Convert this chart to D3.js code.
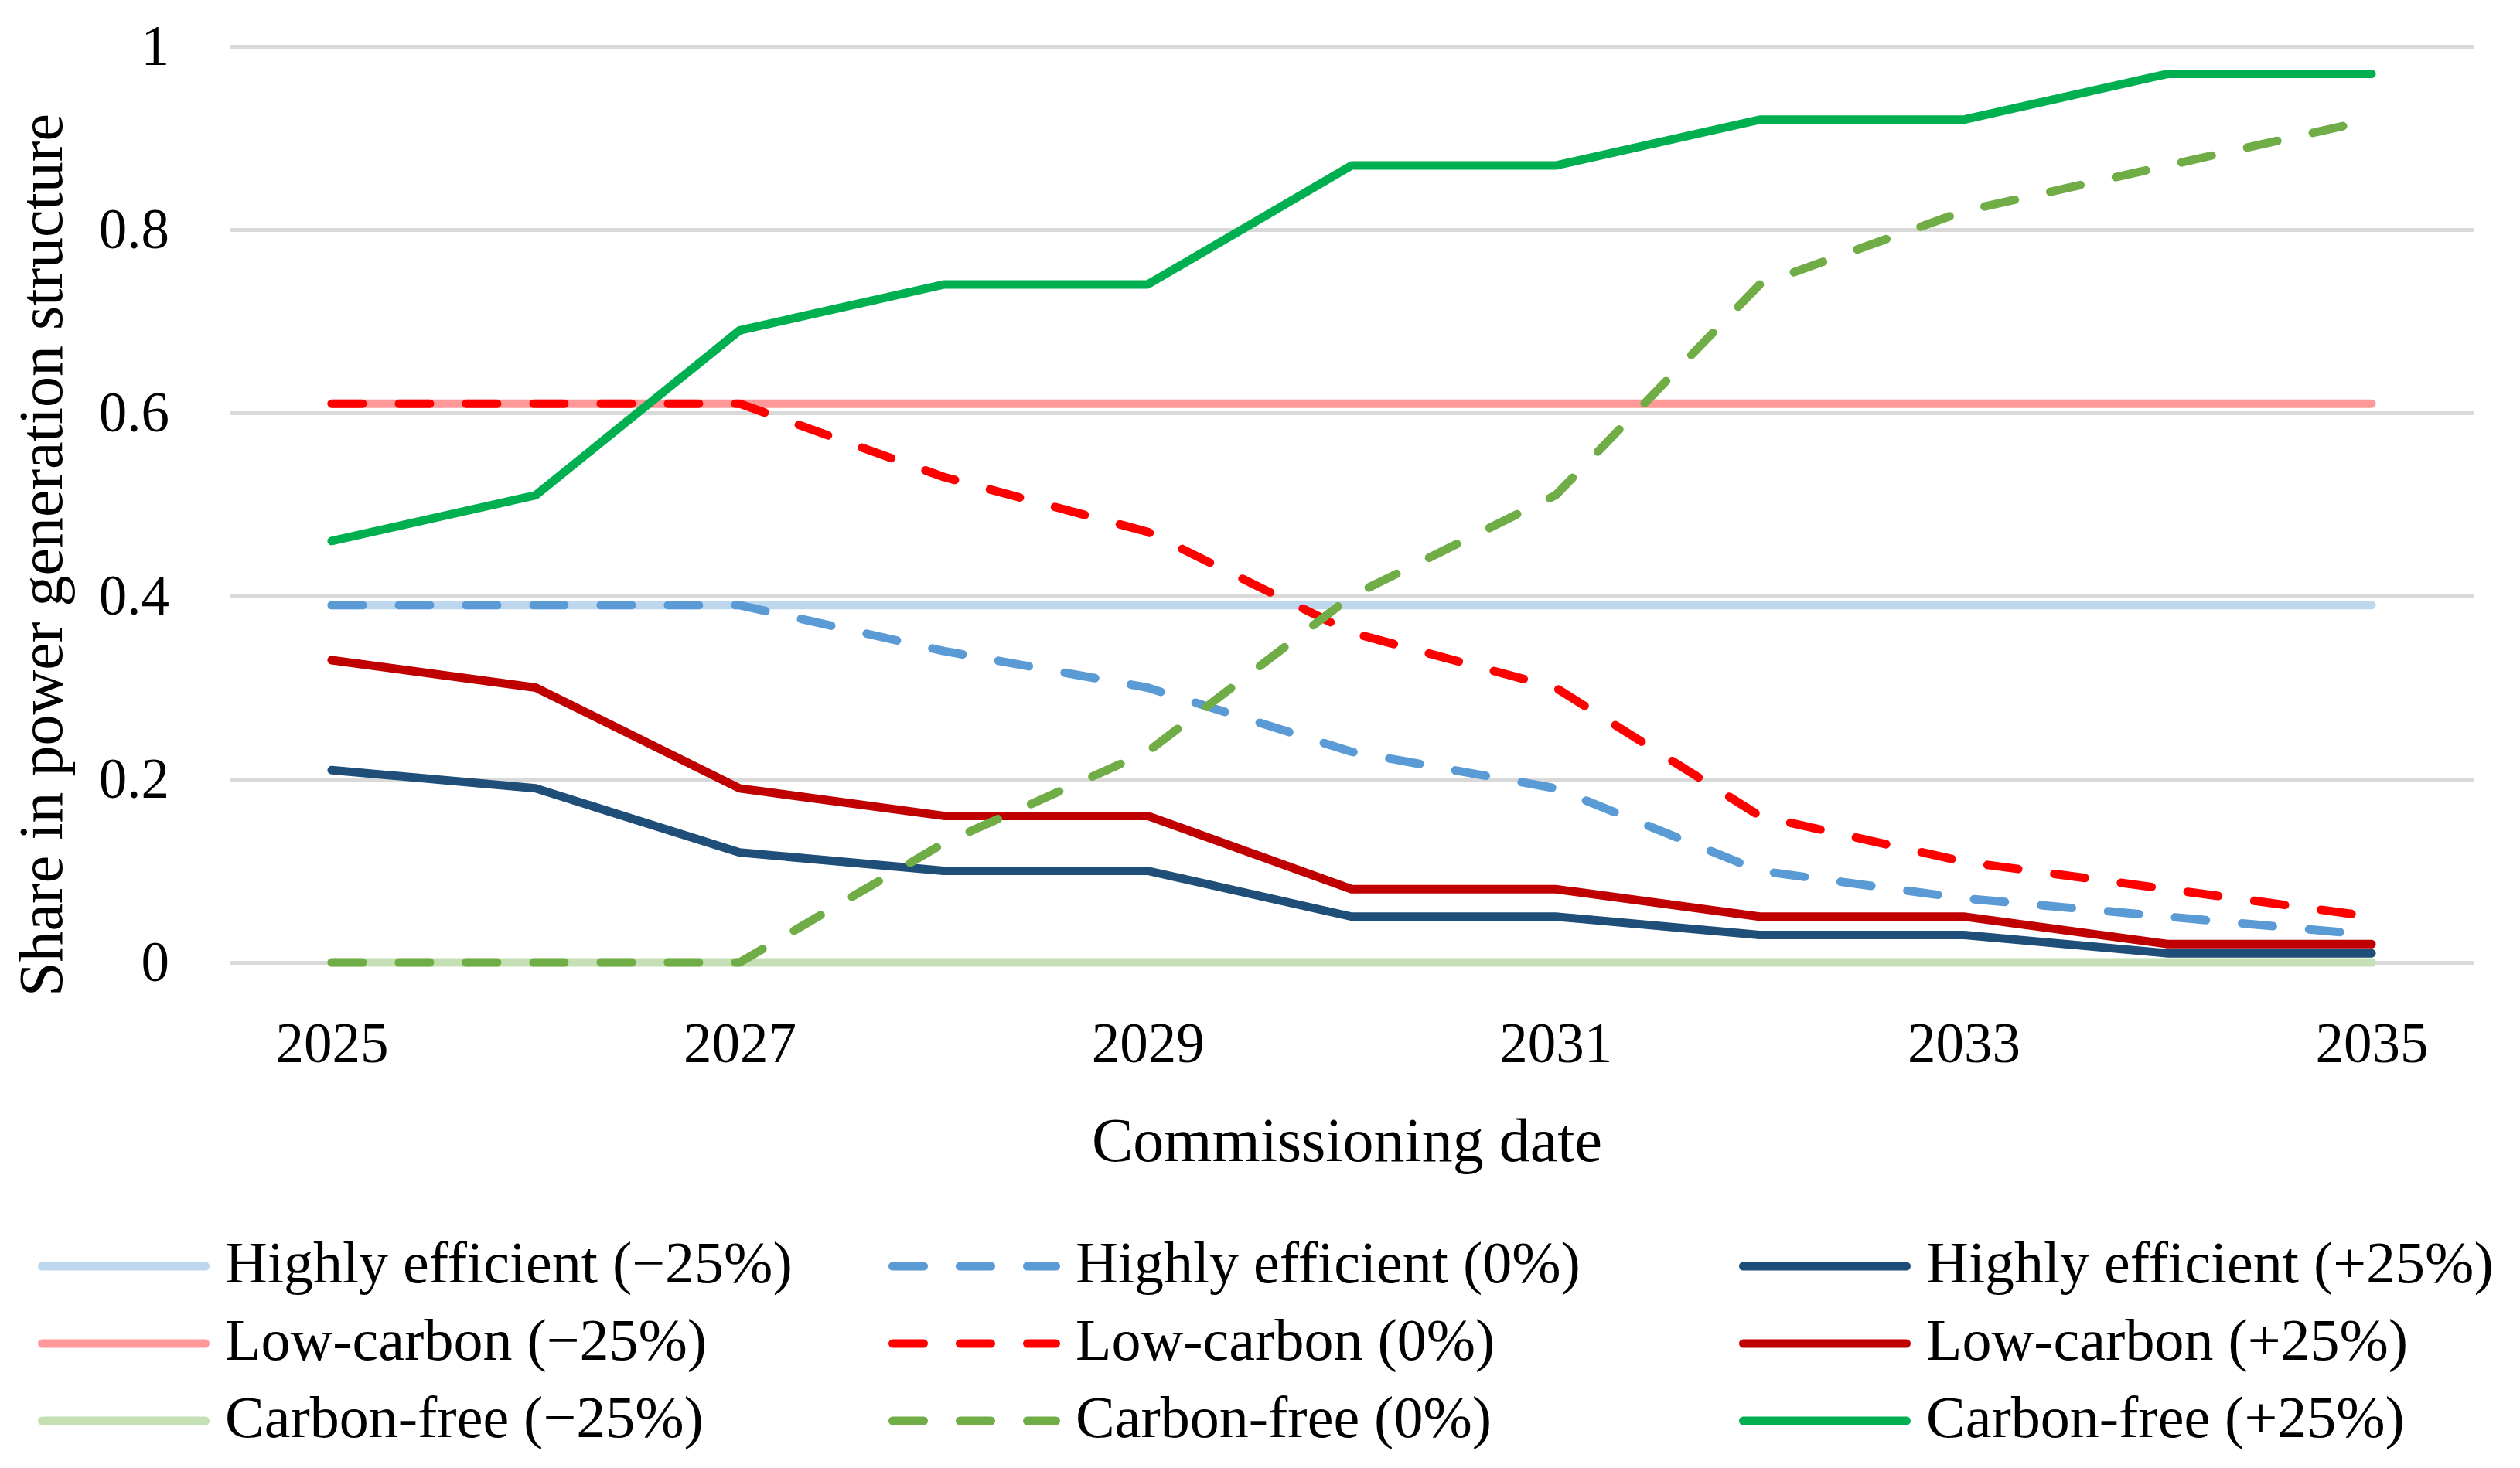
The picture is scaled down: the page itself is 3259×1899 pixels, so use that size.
<!DOCTYPE html>
<html>
<head>
<meta charset="utf-8">
<script src="https://cdn.jsdelivr.net/npm/d3@7"></script>
<style>
  html, body { margin: 0; padding: 0; background: #ffffff; }
  svg { display: block; }
  text { font-family: "Liberation Serif", "DejaVu Serif", serif; fill: #000; }
</style>
</head>
<body>
<script>
// ---------- data ----------
const years = ["2025","2026","2027","2028","2029","2030","2031","2032","2033","2034","2035"];
const xTickLabels = ["2025","2027","2029","2031","2033","2035"];
const yTicks = [0, 0.2, 0.4, 0.6, 0.8, 1];

const seriesNames = [
  "Highly efficient (−25%)", "Highly efficient (0%)", "Highly efficient (+25%)",
  "Low-carbon (−25%)", "Low-carbon (0%)", "Low-carbon (+25%)",
  "Carbon-free (−25%)", "Carbon-free (0%)", "Carbon-free (+25%)"
];
const highlyEfficientMinus25 = [0.39,0.39,0.39,0.39,0.39,0.39,0.39,0.39,0.39,0.39,0.39];
const highlyEfficient0       = [0.39,0.39,0.39,0.34,0.30,0.23,0.19,0.10,0.07,0.05,0.03];
const highlyEfficientPlus25  = [0.21,0.19,0.12,0.10,0.10,0.05,0.05,0.03,0.03,0.01,0.01];
const lowCarbonMinus25       = [0.61,0.61,0.61,0.61,0.61,0.61,0.61,0.61,0.61,0.61,0.61];
const lowCarbon0             = [0.61,0.61,0.61,0.53,0.47,0.36,0.30,0.16,0.11,0.08,0.05];
const lowCarbonPlus25        = [0.33,0.30,0.19,0.16,0.16,0.08,0.08,0.05,0.05,0.02,0.02];
const carbonFreeMinus25      = [0,0,0,0,0,0,0,0,0,0,0];
const carbonFree0            = [0,0,0,0.13,0.23,0.40,0.51,0.74,0.82,0.87,0.92];
const carbonFreePlus25       = [0.46,0.51,0.69,0.74,0.74,0.87,0.87,0.92,0.92,0.97,0.97];

const seriesValues = [
  highlyEfficientMinus25, highlyEfficient0, highlyEfficientPlus25,
  lowCarbonMinus25, lowCarbon0, lowCarbonPlus25,
  carbonFreeMinus25, carbonFree0, carbonFreePlus25
];
const seriesColors = ["#BDD7EE","#5B9BD5","#1F4E79","#FF9999","#FF0000","#C00000","#C5E0B4","#70AD47","#00B050"];
const seriesDashed = [false,true,false,false,true,false,false,true,false];

// ---------- layout ----------
const W = 3259, H = 1899;
const plot = {left: 297, right: 3199, top: 60, bottom: 1245};
const lineW = 11;
const dash = "40,47";

const svg = d3.select("body").append("svg").attr("width", W).attr("height", H);

const x = d3.scalePoint().domain(years).range([plot.left, plot.right]).padding(0.5);
const y = d3.scaleLinear().domain([0, 1]).range([plot.bottom, plot.top]);

// gridlines
const grid = svg.append("g").attr("transform", `translate(${plot.left},0)`)
  .call(d3.axisLeft(y).tickValues(yTicks).tickSize(-(plot.right - plot.left)).tickFormat(""));
grid.select(".domain").remove();
grid.selectAll("line").attr("stroke", "#D9D9D9").attr("stroke-width", 5);

// y axis labels
const yAxis = svg.append("g").attr("transform", `translate(${plot.left},0)`)
  .call(d3.axisLeft(y).tickValues(yTicks).tickSize(0).tickPadding(78).tickFormat(d => d3.format("~g")(d)));
yAxis.select(".domain").remove();
yAxis.selectAll("text").attr("font-size", 73).attr("font-family", "Liberation Serif").attr("fill", "#000");

// x axis labels
const xAxis = svg.append("g").attr("transform", `translate(0,${plot.bottom})`)
  .call(d3.axisBottom(x).tickValues(xTickLabels).tickSize(0).tickPadding(77));
xAxis.select(".domain").remove();
xAxis.selectAll("text").attr("font-size", 73).attr("font-family", "Liberation Serif").attr("fill", "#000");

// lines
const line = d3.line().x((d, i) => x(years[i])).y(d => y(d));
seriesValues.forEach((vals, k) => {
  svg.append("path")
    .datum(vals)
    .attr("d", line)
    .attr("fill", "none")
    .attr("stroke", seriesColors[k])
    .attr("stroke-width", lineW)
    .attr("stroke-linecap", "round")
    .attr("stroke-linejoin", "round")
    .attr("stroke-dasharray", seriesDashed[k] ? dash : null);
});

// axis titles
svg.append("text")
  .attr("x", 1742).attr("y", 1502)
  .attr("text-anchor", "middle")
  .attr("font-size", 80)
  .text("Commissioning date");

svg.append("text")
  .attr("transform", "translate(80,718) rotate(-90)")
  .attr("text-anchor", "middle")
  .attr("font-size", 80)
  .text("Share in power generation structure");

// legend
const legend = svg.append("g");
seriesNames.forEach((name, k) => {
  const col = k % 3, row = Math.floor(k / 3);
  const lx = 49 + col * 1100;
  const ly = 1638 + row * 100;
  const g = legend.append("g").attr("transform", `translate(${lx},${ly})`);
  g.append("line")
    .attr("x1", 5.5).attr("x2", 216.5).attr("y1", 0).attr("y2", 0)
    .attr("stroke", seriesColors[k])
    .attr("stroke-width", lineW)
    .attr("stroke-linecap", "round")
    .attr("stroke-dasharray", seriesDashed[k] ? dash : null);
  g.append("text")
    .attr("x", 242).attr("y", 21)
    .attr("font-size", 76)
    .text(name);
});
</script>
</body>
</html>
